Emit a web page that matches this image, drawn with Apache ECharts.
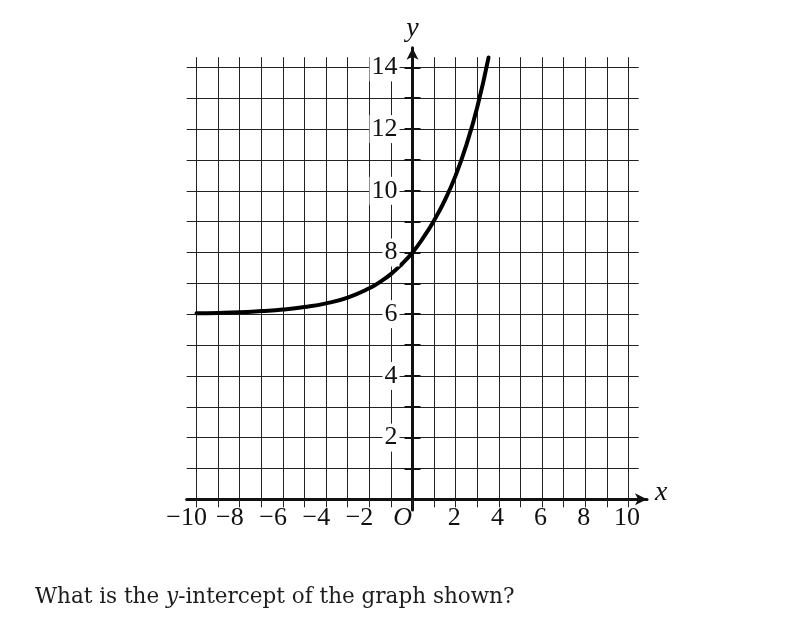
<!DOCTYPE html>
<html>
<head>
<meta charset="utf-8">
<script src="https://cdn.jsdelivr.net/npm/echarts@6/dist/echarts.min.js"></script>
<style>
html,body{margin:0;padding:0;background:#fff;}
#c{width:807px;height:630px;}
</style>
</head>
<body>
<div id="c"></div>
<script>
// ---- data ----
const xValues = [-10, -9, -8, -7, -6, -5, -4, -3, -2, -1.5, -1, -0.5, 0, 0.5, 1, 1.5, 2, 2.5, 3, 3.52];
const yValues = [6.03, 6.04, 6.06, 6.1, 6.15, 6.23, 6.35, 6.54, 6.84, 7.05, 7.3, 7.62, 8.0, 8.48, 9.04, 9.7, 10.5, 11.5, 12.72, 14.32];
const xTickLabelsNeg = [-10, -8, -6, -4, -2, 0];
const xTickLabelsPos = [2, 4, 6, 8, 10];
const yTickLabels = [2, 4, 6, 8, 10, 12, 14];
const xRange = [-10, 10];
const yRange = [0, 14];
const yTop = 14.33;
const questionText = 'What is the {i|y}-intercept of the graph shown?';

// ---- layout ----
const X0 = 412.5, UX = 21.6, Y0 = 499.3, UY = 30.85;
const SERIF = '"Liberation Serif", "Times New Roman", serif';
const INK = '#111';
const GRIDC = '#222';
const NEG_SHIFT = 8.3;

const points = xValues.map((x, i) => [x, yValues[i]]);

const hiddenX = (g) => ({ type: 'value', gridIndex: g, min: 0, max: 1, show: false });
const hiddenY = (g) => ({ type: 'value', gridIndex: g, min: 0, max: 1, show: false });
const labelFont = { fontFamily: SERIF, fontSize: 26, color: INK };

const chart = echarts.init(document.getElementById('c'), null, { renderer: 'canvas' });
chart.setOption({
  backgroundColor: '#fff',
  animation: false,
  title: {
    text: questionText,
    left: 35, top: 586, padding: 0,
    textStyle: {
      fontFamily: '"DejaVu Serif", serif', fontSize: 21.5, fontWeight: 'normal', color: '#1d1d1d',
      rich: { i: { fontFamily: '"DejaVu Serif", serif', fontSize: 21.5, fontStyle: 'italic', color: '#1d1d1d' } }
    }
  },
  grid: [
    // 0: data + vertical grid lines + positive labels
    { left: X0 + xRange[0] * UX, width: (xRange[1] - xRange[0]) * UX, top: Y0 - yTop * UY, height: yTop * UY },
    // 1: horizontal grid lines (wider)
    { left: 186.7, width: 452, top: Y0 - yRange[1] * UY, height: yRange[1] * UY },
    // 2: x axis line with arrow
    { left: 186.7, width: 647 - 186.7, top: Y0 - 10, height: 10 },
    // 3: y axis line with arrow
    { left: X0, width: 10, top: 47.7, height: 510 - 47.7 },
    // 4: y ticks / labels
    { left: X0, width: 10, top: Y0 - yRange[1] * UY, height: yRange[1] * UY },
    // 5: negative x labels (minus sign hangs to the left of the tick)
    { left: X0 + xRange[0] * UX - NEG_SHIFT, width: (xRange[1] - xRange[0]) * UX, top: Y0 - yTop * UY, height: yTop * UY }
  ],
  xAxis: [
    { type: 'value', gridIndex: 0, position: 'bottom', min: xRange[0], max: xRange[1], interval: 1,
      axisLine: { show: false, onZero: false },
      axisTick: { show: true, length: 8, lineStyle: { color: GRIDC, width: 1 } },
      axisLabel: { show: false },
      splitLine: { show: true, lineStyle: { color: GRIDC, width: 1 } } },
    { type: 'value', gridIndex: 0, position: 'bottom', min: xRange[0], max: xRange[1], interval: 2,
      axisLine: { show: false, onZero: false }, axisTick: { show: false }, splitLine: { show: false },
      axisLabel: Object.assign({ show: true, margin: 6, padding: [0, 3, 0, 0], customValues: xTickLabelsPos,
        showMinLabel: true, showMaxLabel: true }, labelFont) },
    hiddenX(1),
    { type: 'value', gridIndex: 2, position: 'bottom', min: 0, max: 1,
      axisLine: { show: true, onZero: false, symbol: ['none', 'arrow'], symbolSize: [9, 12], lineStyle: { color: INK, width: 3 } },
      axisTick: { show: false }, axisLabel: { show: false }, splitLine: { show: false },
      name: 'x', nameLocation: 'end', nameGap: 8,
      nameTextStyle: { fontFamily: SERIF, fontSize: 28, fontStyle: 'italic', color: INK, verticalAlign: 'bottom', lineHeight: 14 } },
    hiddenX(3),
    hiddenX(4),
    { type: 'value', gridIndex: 5, position: 'bottom', min: xRange[0], max: xRange[1], interval: 2,
      axisLine: { show: false, onZero: false }, axisTick: { show: false }, splitLine: { show: false },
      axisLabel: Object.assign({ show: true, margin: 6, padding: [0, 3, 0, 0], customValues: xTickLabelsNeg,
        showMinLabel: true, showMaxLabel: true,
        formatter: (v) => v === 0 ? '{o|O}' : '\u2212' + (-v),
        rich: { o: { fontFamily: SERIF, fontSize: 26, color: INK, fontStyle: 'italic' } } }, labelFont) }
  ],
  yAxis: [
    { type: 'value', gridIndex: 0, min: yRange[0], max: yTop, show: false },
    { type: 'value', gridIndex: 1, min: yRange[0], max: yRange[1], interval: 1,
      axisLine: { show: false, onZero: false }, axisTick: { show: false }, axisLabel: { show: false },
      splitLine: { show: true, lineStyle: { color: GRIDC, width: 1 } } },
    hiddenY(2),
    { type: 'value', gridIndex: 3, position: 'left', min: 0, max: 1,
      axisLine: { show: true, onZero: false, symbol: ['none', 'arrow'], symbolSize: [9, 12], lineStyle: { color: INK, width: 3 } },
      axisTick: { show: false }, axisLabel: { show: false }, splitLine: { show: false },
      name: 'y', nameLocation: 'end', nameGap: 5,
      nameTextStyle: { fontFamily: SERIF, fontSize: 28, fontStyle: 'italic', color: INK } },
    { type: 'value', gridIndex: 4, position: 'left', min: yRange[0], max: yRange[1], interval: 1,
      axisLine: { show: false, onZero: false }, axisLabel: { show: false }, splitLine: { show: false },
      axisTick: { show: true, inside: false, length: 8, lineStyle: { color: INK, width: 2 } } },
    { type: 'value', gridIndex: 4, position: 'left', min: yRange[0], max: yRange[1], interval: 1,
      axisLine: { show: false, onZero: false }, axisLabel: { show: false }, splitLine: { show: false },
      axisTick: { show: true, inside: true, length: 8, lineStyle: { color: INK, width: 2 } } },
    { type: 'value', gridIndex: 4, position: 'left', min: yRange[0], max: yRange[1], interval: 2, z: 10,
      axisLine: { show: false, onZero: false }, axisTick: { show: false }, splitLine: { show: false },
      axisLabel: Object.assign({ show: true, margin: 13, customValues: yTickLabels,
        backgroundColor: '#fff', padding: [1, 2, 1, 2] }, labelFont) },
    hiddenY(5)
  ],
  series: [{
    type: 'line', xAxisIndex: 0, yAxisIndex: 0, data: points,
    smooth: 0.5, showSymbol: false, symbol: 'none', clip: false, z: 5,
    lineStyle: { color: '#000', width: 4, cap: 'round' }
  }]
});
</script>
</body>
</html>
